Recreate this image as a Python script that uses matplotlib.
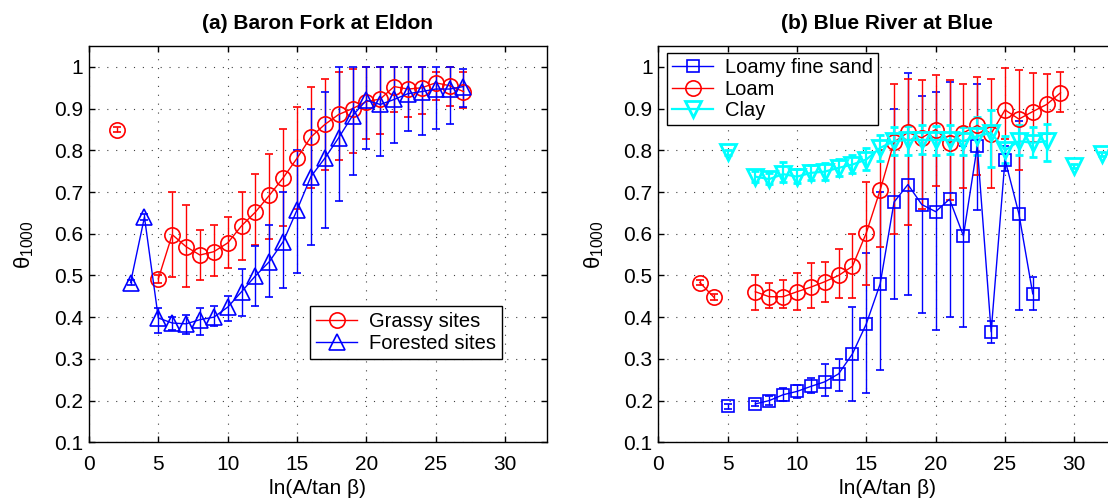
import numpy as np
import matplotlib
matplotlib.use("Agg")
import matplotlib.pyplot as plt
from matplotlib.ticker import FormatStrFormatter

plt.rcParams['font.family'] = ['Liberation Sans', 'DejaVu Sans']
plt.rcParams['mathtext.fontset'] = 'custom'
plt.rcParams['mathtext.rm'] = 'Liberation Sans'
plt.rcParams['mathtext.it'] = 'Liberation Sans'

nan = np.nan

# ---- (a) Baron Fork at Eldon ----
grassy_x = list(range(2, 28))
grassy_y = [0.850, nan, nan, 0.492, 0.598, 0.569, 0.549, 0.557, 0.578, 0.619, 0.652, 0.692, 0.734,
            0.781, 0.832, 0.862, 0.886, 0.900, 0.917, 0.923, 0.953, 0.947, 0.950, 0.962, 0.955, 0.941]
grassy_lo = [0.845, nan, nan, 0.482, 0.497, 0.472, 0.488, 0.499, 0.518, 0.538, 0.572, 0.587, 0.619,
             0.660, 0.710, 0.752, 0.778, 0.794, 0.827, 0.839, 0.891, 0.881, 0.887, 0.920, 0.907, 0.901]
grassy_hi = [0.855, nan, nan, 0.502, 0.700, 0.668, 0.610, 0.622, 0.641, 0.700, 0.744, 0.792, 0.851,
             0.905, 0.953, 0.971, 0.987, 0.995, 1.000, 1.000, 1.000, 1.000, 1.000, 0.987, 1.000, 0.987]

forest_x = list(range(3, 28))
forest_y = [0.483, 0.640, 0.398, 0.386, 0.384, 0.394, 0.400, 0.424, 0.461, 0.499, 0.533, 0.581, 0.657,
            0.737, 0.781, 0.830, 0.883, 0.920, 0.910, 0.922, 0.936, 0.941, 0.947, 0.947, 0.953]
forest_lo = [0.476, 0.632, 0.362, 0.370, 0.360, 0.358, 0.379, 0.390, 0.403, 0.427, 0.448, 0.470, 0.507,
             0.574, 0.614, 0.678, 0.742, 0.803, 0.787, 0.818, 0.846, 0.838, 0.851, 0.862, 0.905]
forest_hi = [0.490, 0.648, 0.422, 0.400, 0.406, 0.422, 0.426, 0.450, 0.515, 0.571, 0.622, 0.700, 0.800,
             0.900, 0.941, 1.000, 1.000, 1.000, 1.000, 1.000, 1.000, 1.000, 1.000, 1.000, 0.995]

# ---- (b) Blue River at Blue ----
sand_x = list(range(5, 28))
sand_y = [0.186, nan, 0.192, 0.200, 0.214, 0.222, 0.234, 0.245, 0.264, 0.312, 0.384, 0.480, 0.676,
          0.718, 0.670, 0.653, 0.683, 0.595, 0.810, 0.365, 0.778, 0.648, 0.456]
sand_lo = [0.180, nan, 0.186, 0.190, 0.200, 0.207, 0.218, 0.210, 0.222, 0.198, 0.218, 0.274, 0.444,
           0.454, 0.410, 0.370, 0.400, 0.377, 0.657, 0.338, 0.750, 0.418, 0.416]
sand_hi = [0.192, nan, 0.198, 0.210, 0.230, 0.237, 0.254, 0.288, 0.300, 0.425, 0.554, 0.700, 0.900,
           0.986, 0.930, 0.941, 0.963, 0.810, 0.960, 0.390, 0.810, 0.870, 0.496]

loam_x = list(range(3, 30))
loam_y = [0.483, 0.448, nan, nan, 0.461, 0.449, 0.449, 0.461, 0.472, 0.485, 0.500, 0.522, 0.602,
          0.705, 0.820, 0.843, 0.830, 0.850, 0.818, 0.842, 0.860, 0.840, 0.897, 0.875, 0.893, 0.910, 0.938]
loam_lo = [0.476, 0.441, nan, nan, 0.418, 0.422, 0.422, 0.418, 0.422, 0.437, 0.446, 0.446, 0.478,
           0.568, 0.600, 0.620, 0.660, 0.715, 0.680, 0.710, 0.740, 0.710, 0.827, 0.754, 0.820, 0.840, 0.891]
loam_hi = [0.490, 0.455, nan, nan, 0.500, 0.482, 0.490, 0.507, 0.530, 0.533, 0.563, 0.600, 0.725,
           0.800, 0.960, 0.970, 0.968, 0.980, 0.968, 0.960, 0.976, 0.970, 0.998, 0.993, 0.985, 0.984, 0.987]

clay_x = list(range(5, 33))
clay_y = [0.795, nan, 0.737, 0.731, 0.743, 0.737, 0.746, 0.749, 0.758, 0.766, 0.778, 0.806, 0.822,
          0.825, 0.825, 0.825, 0.825, 0.822, 0.834, 0.842, 0.800, 0.822, 0.818, 0.822, nan, 0.762, nan, 0.792]
clay_lo = [0.790, nan, 0.725, 0.720, 0.725, 0.722, 0.728, 0.730, 0.738, 0.745, 0.752, 0.775, 0.790,
           0.790, 0.792, 0.790, 0.792, 0.788, 0.790, 0.760, 0.770, 0.790, 0.785, 0.774, nan, 0.757, nan, 0.787]
clay_hi = [0.800, nan, 0.750, 0.745, 0.772, 0.755, 0.765, 0.770, 0.780, 0.790, 0.805, 0.838, 0.855,
           0.858, 0.860, 0.858, 0.860, 0.856, 0.880, 0.896, 0.835, 0.860, 0.855, 0.862, nan, 0.767, nan, 0.797]

xticks = [0, 5, 10, 15, 20, 25, 30]
yticks = [0.1, 0.2, 0.3, 0.4, 0.5, 0.6, 0.7, 0.8, 0.9, 1.0]


def err(y, lo, hi):
    y = np.array(y); lo = np.array(lo); hi = np.array(hi)
    return [y - lo, hi - y]


def series(ax, x, y, lo, hi, color, marker, ms, lw=1.0, mew=1.2):
    c = ax.errorbar(x, y, yerr=err(y, lo, hi), color=color, marker=marker, ms=ms, mfc='none',
                    mec=color, mew=mew, lw=lw, elinewidth=lw, capsize=3, capthick=lw)
    return c[0]


def style(ax, title):
    ax.set_xlim(0, 33)
    ax.set_ylim(0.1, 1.05)
    ax.set_xticks(xticks)
    ax.set_yticks(yticks)
    ax.yaxis.set_major_formatter(FormatStrFormatter('%g'))
    ax.tick_params(direction='in', top=True, right=True, labelsize=15, length=4, width=1, pad=4)
    ax.tick_params(axis='x', pad=9)
    ax.grid(True, color='0.25', linestyle=(0, (1, 7)), lw=0.8)
    for s in ax.spines.values():
        s.set_linewidth(1.0)
    ax.set_title(title, fontsize=15, fontweight='bold', pad=12)
    ax.set_xlabel('ln(A/tan β)', fontsize=15, labelpad=4)
    ax.set_ylabel(r'$\mathregular{\theta_{1000}}$', fontsize=16, labelpad=13)


legend_kw = dict(fontsize=14.5, fancybox=False, edgecolor='black', framealpha=1, borderaxespad=0,
                 handlelength=2.0, handletextpad=0.6)

fig = plt.figure(figsize=(11.08, 5.01), dpi=100)
ax1 = fig.add_axes([0.0803, 0.1172, 0.4131, 0.7908])
ax2 = fig.add_axes([0.5941, 0.1172, 0.4131, 0.7908])

h1 = series(ax1, grassy_x, grassy_y, grassy_lo, grassy_hi, 'red', 'o', 11)
h2 = series(ax1, forest_x, forest_y, forest_lo, forest_hi, 'blue', '^', 11)
style(ax1, '(a) Baron Fork at Eldon')
leg1 = ax1.legend([h1, h2], ['Grassy sites', 'Forested sites'], loc='lower right',
                  bbox_to_anchor=(0.902, 0.21), labelspacing=0.15, borderpad=0.3, **legend_kw)
leg1.get_frame().set_linewidth(1.0)

h3 = series(ax2, sand_x, sand_y, sand_lo, sand_hi, 'blue', 's', 9)
h4 = series(ax2, loam_x, loam_y, loam_lo, loam_hi, 'red', 'o', 11)
h5 = series(ax2, clay_x, clay_y, clay_lo, clay_hi, 'cyan', 'v', 12, lw=1.6, mew=2.0)
style(ax2, '(b) Blue River at Blue')
leg2 = ax2.legend([h3, h4, h5], ['Loamy fine sand', 'Loam', 'Clay'], loc='upper left',
                  bbox_to_anchor=(0.02, 0.982), labelspacing=0.12, borderpad=0.25, **legend_kw)
leg2.get_frame().set_linewidth(1.0)

fig.savefig('out.png', dpi=100)
